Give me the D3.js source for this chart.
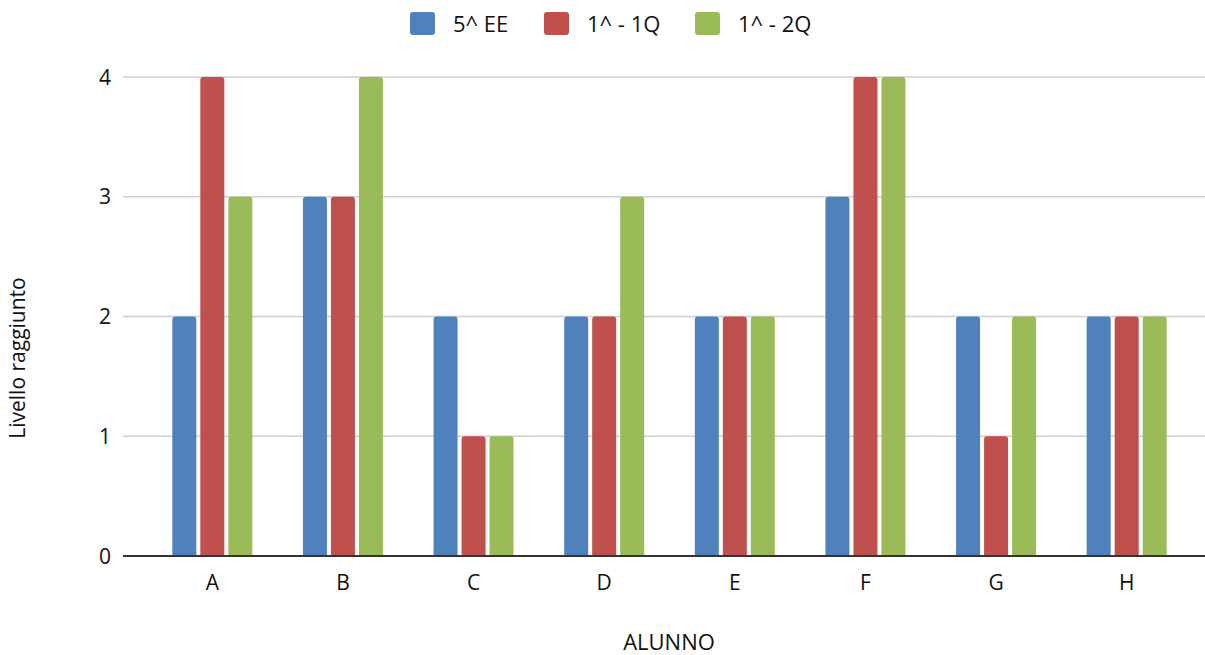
<!DOCTYPE html>
<html><head><meta charset="utf-8">
<script src="https://cdn.jsdelivr.net/npm/d3@7"></script>
<style>body{margin:0;background:#fff}svg{display:block;font-family:"Open Sans",sans-serif}</style>
</head><body><svg id="c" width="1205" height="655"></svg>
<script>
const categories = ["A","B","C","D","E","F","G","H"];
const seriesNames = ["5^ EE","1^ - 1Q","1^ - 2Q"];
const s5EE = [2,3,2,2,2,3,2,2];
const s1Q = [4,3,1,2,2,4,1,2];
const s2Q = [3,4,1,3,2,4,2,2];
const yTicks = [0,1,2,3,4];
const colors = ["#4F81BD","#C0504D","#9BBB59"];
const seriesValues = [s5EE, s1Q, s2Q];

const svg = d3.select("#c");
const x = d3.scaleBand().domain(categories).range([147, 1192]).padding(0);
const xi = d3.scaleBand().domain(seriesNames).range([0, 80]).paddingInner(4/28).paddingOuter(0);
const y = d3.scaleLinear().domain([0,4]).range([556, 77]);

// gridlines
svg.append("g").selectAll("line").data(yTicks.filter(d=>d>0)).join("line")
  .attr("x1",123).attr("x2",1205).attr("y1",d=>y(d)).attr("y2",d=>y(d))
  .attr("stroke","#cfcfcf").attr("stroke-width",1.5);

// y labels
svg.append("g").selectAll("text").data(yTicks).join("text")
  .attr("x",111).attr("y",d=>y(d)+7.5).attr("text-anchor","end")
  .attr("font-size",21).attr("fill","#111").text(d=>d);

function topRounded(x0,y0,w,h,r){
  r=Math.min(r,h);
  return `M${x0},${y0+h}V${y0+r}Q${x0},${y0} ${x0+r},${y0}H${x0+w-r}Q${x0+w},${y0} ${x0+w},${y0+r}V${y0+h}Z`;
}
// bars
seriesValues.forEach((vals,si)=>{
  svg.append("g").selectAll("path").data(categories).join("path")
    .attr("fill",colors[si])
    .attr("d",(c,i)=>{
      const cx = x(c)+x.bandwidth()/2 - 40 + xi(seriesNames[si]);
      return topRounded(cx, y(vals[i]), xi.bandwidth(), y(0)-y(vals[i]), 3);
    });
});

// x axis line
svg.append("line").attr("x1",123).attr("x2",1205).attr("y1",y(0)).attr("y2",y(0))
  .attr("stroke","#333").attr("stroke-width",2);

// x labels
svg.append("g").selectAll("text").data(categories).join("text")
  .attr("x",c=>x(c)+x.bandwidth()/2).attr("y",590).attr("text-anchor","middle")
  .attr("font-size",21).attr("fill","#111").text(c=>c);

// axis titles
svg.append("text").attr("x",669).attr("y",650).attr("text-anchor","middle")
  .attr("font-size",22).attr("fill","#111").text("ALUNNO");
svg.append("text").attr("transform","translate(25,358) rotate(-90)").attr("text-anchor","middle")
  .attr("font-size",21).attr("fill","#111").text("Livello raggiunto");

// legend
const legX = [410,544,695];
const lg = svg.append("g").selectAll("g").data(seriesNames).join("g")
  .attr("transform",(d,i)=>`translate(${legX[i]},12)`);
lg.append("rect").attr("width",25).attr("height",23).attr("rx",3).attr("fill",(d,i)=>colors[i]);
lg.append("text").attr("x",43).attr("y",19.5).attr("font-size",22).attr("fill","#111").text(d=>d);
</script></body></html>
